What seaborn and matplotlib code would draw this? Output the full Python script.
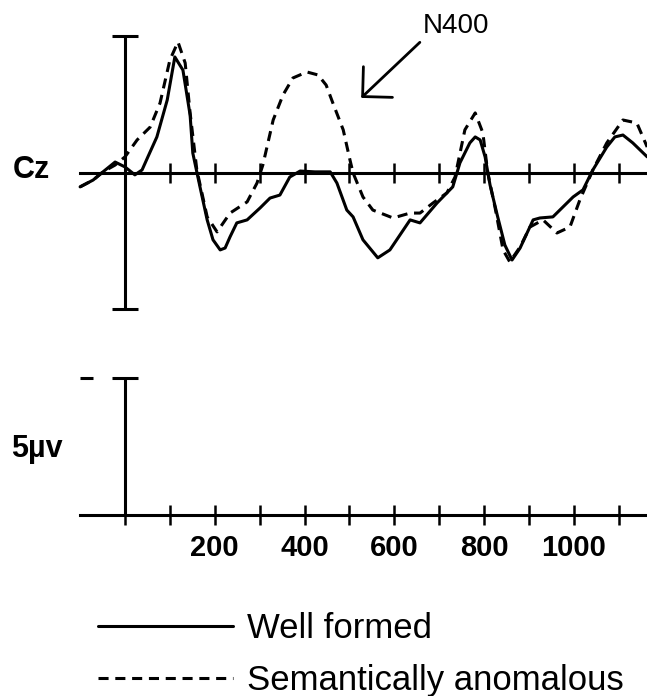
import matplotlib
matplotlib.use("Agg")
import matplotlib.pyplot as plt
import seaborn as sns
import pandas as pd

# ERP at Cz, amplitude in microvolts (negative plotted up), time in ms
well_time = [-100, -71, -49, -22, 0, 22, 38, 51, 71, 94, 111, 129, 145, 151, 167, 183,
             196, 212, 223, 234, 249, 272, 301, 323, 345, 367, 390, 423, 457, 472, 494,
             508, 530, 563, 590, 635, 657, 695, 730, 746, 768, 780, 791, 802, 813, 829,
             846, 862, 880, 909, 924, 953, 998, 1020, 1042, 1073, 1091, 1109, 1131, 1163]
well_amp = [0.51, 0.26, -0.04, -0.40, -0.22, 0.07, -0.11, -0.59, -1.32, -2.67, -4.25,
            -3.77, -2.12, -0.73, 0.51, 1.72, 2.45, 2.82, 2.75, 2.34, 1.83, 1.72, 1.28,
            0.92, 0.81, 0.15, -0.07, -0.04, -0.04, 0.37, 1.36, 1.61, 2.45, 3.11, 2.82,
            1.72, 1.83, 1.10, 0.51, -0.37, -1.10, -1.32, -1.21, -0.59, 0.44, 1.54, 2.64,
            3.19, 2.75, 1.72, 1.65, 1.61, 0.88, 0.62, -0.11, -0.95, -1.32, -1.39, -1.10,
            -0.59]

anom_time = [-100, -71, -49, -22, 0, 27, 56, 78, 100, 118, 134, 145, 160, 183, 205, 234,
             272, 294, 307, 330, 352, 374, 405, 430, 448, 463, 486, 501, 508, 530, 552,
             597, 635, 657, 686, 717, 735, 757, 780, 797, 808, 824, 842, 857, 880, 902,
             931, 962, 991, 1013, 1042, 1073, 1109, 1140, 1163]
anom_amp = [0.51, 0.26, -0.04, -0.29, -0.59, -1.21, -1.68, -2.56, -4.14, -4.80, -4.03,
            -2.20, -0.11, 1.61, 2.16, 1.47, 1.06, 0.37, -0.29, -1.94, -2.86, -3.48, -3.70,
            -3.59, -3.22, -2.56, -1.58, -0.48, 0.00, 0.88, 1.36, 1.65, 1.47, 1.47, 1.10,
            0.73, 0.15, -1.58, -2.20, -1.47, 0.00, 1.25, 2.82, 3.26, 2.71, 1.98, 1.72,
            2.20, 1.98, 0.99, -0.11, -1.10, -1.94, -1.83, -0.95]

top_ticks = [100, 200, 300, 400, 500, 600, 700, 800, 900, 1000, 1100]
bottom_ticks = [0, 100, 200, 300, 400, 500, 600, 700, 800, 900, 1000, 1100]
bottom_labels = ['', '', '200', '', '400', '', '600', '', '800', '', '1000', '']
scale_uv = 5

sns.set_style("white")
plt.rcParams['font.family'] = ['Liberation Sans', 'DejaVu Sans']
plt.rcParams['text.color'] = 'black'
plt.rcParams['xtick.color'] = 'black'
plt.rcParams['xtick.labelcolor'] = 'black'

fig = plt.figure(figsize=(6.47, 6.96), dpi=100)
xlim = (-278.4, 1162.6)
lw = 2.2

# top panel: waveforms
ax = fig.add_axes([0, 0.526, 1, 0.474])
ax.set_xlim(*xlim)
ax.set_ylim(5.751, -6.337)

well = pd.DataFrame({'time': well_time, 'amp': well_amp})
anom = pd.DataFrame({'time': anom_time, 'amp': anom_amp})
sns.lineplot(data=well, x='time', y='amp', ax=ax, color='black', lw=lw,
             label='Well formed', estimator=None)
sns.lineplot(data=anom, x='time', y='amp', ax=ax, color='black', lw=lw,
             linestyle=(0, (3.3, 2.2)), label='Semantically anomalous', estimator=None)
handles, labels = ax.get_legend_handles_labels()
if ax.get_legend() is not None:
    ax.get_legend().remove()

ax.vlines(0, -scale_uv, scale_uv, color='black', lw=lw)
ax.hlines([-scale_uv, scale_uv], -29, 29, color='black', lw=lw)

for s in ['top', 'right', 'left']:
    ax.spines[s].set_visible(False)
ax.spines['bottom'].set_position(('data', 0))
ax.spines['bottom'].set_bounds(-100, xlim[1])
ax.spines['bottom'].set_linewidth(lw)
ax.spines['bottom'].set_color('black')
ax.set_xticks(top_ticks, [''] * len(top_ticks))
ax.set_yticks([])
ax.tick_params(axis='x', bottom=True, direction='inout', length=14, width=1.8, color='black')
ax.set_xlabel('')
ax.set_ylabel('')
ax.patch.set_alpha(0)

ax.text(-209, -0.1, 'Cz', fontsize=22, fontweight='bold', ha='center', va='center')
ax.annotate('N400', xy=(526, -2.75), xytext=(664, -4.9), fontsize=20,
            ha='left', va='bottom',
            arrowprops=dict(arrowstyle='->,head_length=0.76,head_width=0.76',
                            lw=2, color='black', shrinkA=0, shrinkB=0,
                            relpos=(0, 0), mutation_scale=20))

# bottom panel: calibration bar and time axis
ax2 = fig.add_axes([0, 0.138, 1, 0.3736])
ax2.set_xlim(*xlim)
ax2.set_ylim(-3.114, 6.41)
ax2.vlines(0, 0, scale_uv, color='black', lw=lw)
ax2.hlines(scale_uv, -29, 29, color='black', lw=lw)
ax2.hlines(scale_uv, -100, -71, color='black', lw=lw)
for s in ['top', 'right', 'left']:
    ax2.spines[s].set_visible(False)
ax2.spines['bottom'].set_position(('data', 0))
ax2.spines['bottom'].set_bounds(-100, xlim[1])
ax2.spines['bottom'].set_linewidth(lw)
ax2.spines['bottom'].set_color('black')
ax2.set_xticks(bottom_ticks, bottom_labels, fontsize=21, fontweight='bold')
ax2.set_yticks([])
ax2.tick_params(axis='x', bottom=True, direction='inout', length=14, width=1.8,
                color='black', pad=7)
ax2.patch.set_alpha(0)
ax2.text(-196, 2.42, '5µv', fontsize=22, fontweight='bold', ha='center', va='center')

fig.legend(handles, labels, loc='upper left', bbox_to_anchor=(98 / 647, 1 - 612 / 696),
           frameon=False, fontsize=25, handlelength=3.9, handletextpad=0.4,
           labelspacing=0.55, borderpad=0, borderaxespad=0)

fig.savefig('out.png', dpi=100)
